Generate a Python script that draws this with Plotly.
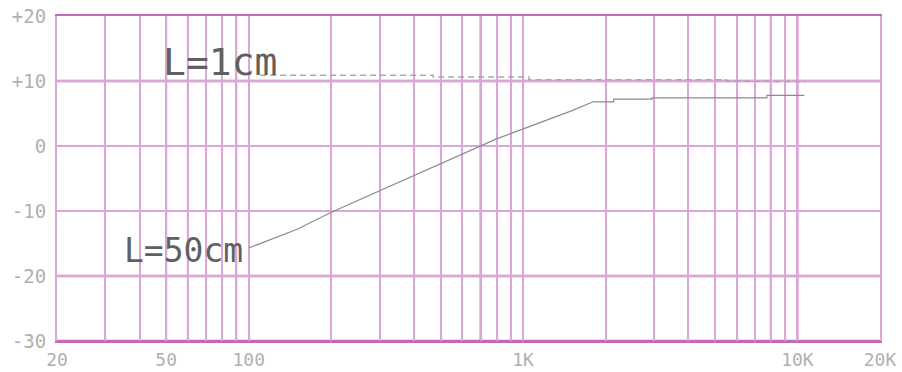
import plotly.graph_objects as go

# axis ticks
x_tick_vals = [20, 50, 100, 1000, 10000, 20000]
x_tick_text = ["20", "50", "100", "1K", "10K", "20K"]
y_tick_vals = [-30, -20, -10, 0, 10, 20]
y_tick_text = ["-30", "-20", "-10", "0", "+10", "+20"]

# log grid lines (Hz)
x_grid = [30, 40, 50, 60, 70, 80, 90, 100,
          200, 300, 400, 500, 600, 700, 800, 900, 1000,
          2000, 3000, 4000, 5000, 6000, 7000, 8000, 9000, 10000]
x_grid_dark = [50, 60, 90, 700, 8000, 10000]
y_grid_dark = [10, -20, -30]

# L=1cm response
freq_1cm = [110, 470, 470, 1050, 1050, 5500, 5500, 10700]
db_1cm = [10.9, 10.9, 10.6, 10.6, 10.2, 10.2, 10.0, 9.9]

# L=50cm response
freq_50cm = [100, 150, 200, 300, 400, 500, 600, 700, 800, 900, 1000, 1200,
             1500, 1800, 2140, 2140, 2950, 2950, 7740, 7740, 10600]
db_50cm = [-15.7, -12.8, -10.2, -6.9, -4.6, -2.8, -1.2, 0.0, 1.1, 1.9, 2.6, 3.9,
           5.4, 6.8, 6.8, 7.2, 7.2, 7.4, 7.4, 7.8, 7.8]

LIGHT = "#dca6d6"
DARK = "#c469ba"
FONT = "DejaVu Sans Mono"

fig = go.Figure()

fig.add_trace(go.Scatter(
    x=freq_1cm, y=db_1cm, mode="lines",
    line=dict(color="#a8a8a8", width=1.5, dash="6px,4px"),
    showlegend=False, hoverinfo="skip",
))
fig.add_trace(go.Scatter(
    x=freq_50cm, y=db_50cm, mode="lines",
    line=dict(color="#8c8c8c", width=1.2),
    showlegend=False, hoverinfo="skip",
))

# darker grid lines
for v in x_grid_dark:
    fig.add_shape(type="line", xref="x", yref="paper", x0=v, x1=v, y0=0, y1=1,
                  line=dict(color=DARK, width=2), layer="below")
for v in y_grid_dark:
    fig.add_shape(type="line", xref="paper", yref="y", x0=0, x1=1, y0=v, y1=v,
                  line=dict(color=DARK, width=2.5), layer="below")

# curve labels
fig.add_annotation(x=0.27, y=13.0, xref="paper", yref="y", text="L=1cm",
                   showarrow=False, xanchor="right", yanchor="middle",
                   font=dict(family=FONT, size=38, color="#606060"))
fig.add_annotation(x=0.2284, y=-16.0, xref="paper", yref="y", text="L=50cm",
                   showarrow=False, xanchor="right", yanchor="middle",
                   font=dict(family=FONT, size=33, color="#606060"))

fig.update_layout(
    width=902, height=372,
    margin=dict(l=57, r=22, t=16, b=31, autoexpand=False),
    paper_bgcolor="white", plot_bgcolor="white",
    xaxis=dict(
        type="log", range=[1.30103, 4.30103], automargin=False,
        tickvals=x_tick_vals, ticktext=x_tick_text,
        showgrid=False, zeroline=False,
        showline=True, linecolor=DARK, linewidth=2, mirror=True,
        ticks="", ticklabelstandoff=1,
        tickfont=dict(family=FONT, size=18, color="#b0b0b0"),
        minor=dict(tickvals=x_grid, showgrid=True, gridcolor=LIGHT, gridwidth=2, ticks=""),
    ),
    yaxis=dict(
        range=[-30, 20], automargin=False,
        tickvals=y_tick_vals, ticktext=y_tick_text,
        showgrid=True, gridcolor=LIGHT, gridwidth=2, zeroline=False,
        showline=True, linecolor=LIGHT, linewidth=2, mirror=True,
        ticks="", ticklabelstandoff=5,
        tickfont=dict(family=FONT, size=19, color="#b0b0b0"),
    ),
)

# page body margin would shift the fixed-size figure
fig.write_html("out.html", config={"displayModeBar": False},
               post_script="document.body.style.margin='0';")
